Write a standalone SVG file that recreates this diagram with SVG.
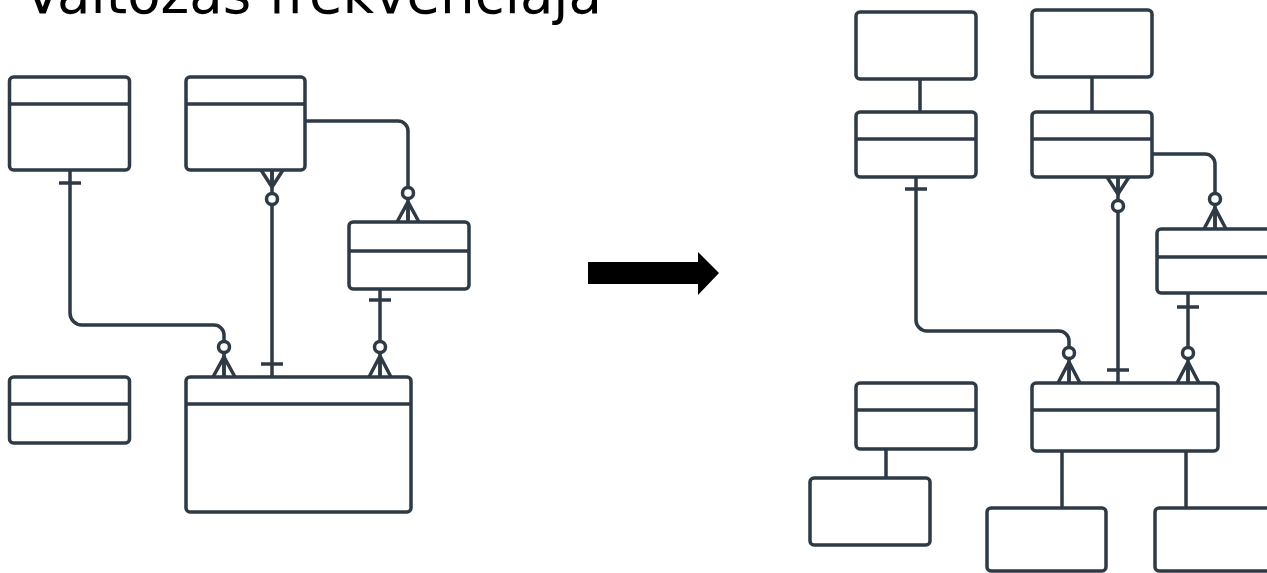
<svg xmlns="http://www.w3.org/2000/svg" width="1267" height="573" viewBox="0 0 1267 573">
<style>
.bx{fill:#fff;stroke:#2e3a46;stroke-width:3.5}
.ln{fill:none;stroke:#2e3a46;stroke-width:3.5}
.ci{fill:#fff;stroke:#2e3a46;stroke-width:3.5}
.t{font-family:"DejaVu Sans",Verdana,sans-serif;font-size:55px;fill:#000}
</style>
<rect width="1267" height="573" fill="#fff"/>
<text class="t" x="24" y="13" textLength="578" lengthAdjust="spacingAndGlyphs">Változás frekvenciája</text>

<g id="connectors">
  <!-- left -->
  <path class="ln" d="M70,170 V313 A12,12 0 0 0 82,325 H214 A10,10 0 0 1 224,335 V377"/>
  <path class="ln" d="M59,183 H81"/>
  <path class="ln" d="M213,377 L224,357 L235,377 M224,357 V377"/>
  <circle class="ci" cx="224" cy="347" r="5.5"/>

  <path class="ln" d="M272,170 V377"/>
  <path class="ln" d="M261,170 L272,187 L283,170 M272,170 V187"/>
  <circle class="ci" cx="272" cy="199" r="5.5"/>
  <path class="ln" d="M261,364 H283"/>

  <path class="ln" d="M305,121 H398 A10,10 0 0 1 408,131 V222"/>
  <circle class="ci" cx="408" cy="193" r="5.5"/>
  <path class="ln" d="M397,222 L408,202 L419,222 M408,202 V222"/>

  <path class="ln" d="M380,289 V377"/>
  <path class="ln" d="M369,300 H391"/>
  <circle class="ci" cx="380" cy="347" r="5.5"/>
  <path class="ln" d="M369,377 L380,356 L391,377 M380,356 V377"/>

  <!-- right -->
  <path class="ln" d="M920,79 V112"/>
  <path class="ln" d="M1092,77 V112"/>
  <path class="ln" d="M886,449 V478"/>
  <path class="ln" d="M1062,451 V508"/>
  <path class="ln" d="M1186,451 V508"/>

  <path class="ln" d="M916,177 V320 A11,11 0 0 0 927,331 H1059 A10,10 0 0 1 1069,341 V383"/>
  <path class="ln" d="M905,189 H927"/>
  <circle class="ci" cx="1069" cy="353" r="5.5"/>
  <path class="ln" d="M1058,383 L1069,362 L1080,383 M1069,362 V383"/>

  <path class="ln" d="M1118,177 V383"/>
  <path class="ln" d="M1107,177 L1118,194 L1129,177 M1118,177 V194"/>
  <circle class="ci" cx="1118" cy="206" r="5.5"/>
  <path class="ln" d="M1107,370 H1129"/>

  <path class="ln" d="M1152,154 H1205 A10,10 0 0 1 1215,164 V229"/>
  <circle class="ci" cx="1215" cy="199" r="5.5"/>
  <path class="ln" d="M1204,229 L1215,208 L1226,229 M1215,208 V229"/>

  <path class="ln" d="M1188,293 V383"/>
  <path class="ln" d="M1177,307 H1199"/>
  <circle class="ci" cx="1188" cy="353" r="5.5"/>
  <path class="ln" d="M1177,383 L1188,362 L1199,383 M1188,362 V383"/>
</g>

<!-- left nodes -->
<g id="L-A"><rect class="bx" x="9.5" y="77" width="120" height="93" rx="4"/><path class="ln" d="M9.5,104 H129.5"/></g>
<g id="L-B"><rect class="bx" x="186" y="77" width="119" height="93" rx="4"/><path class="ln" d="M186,104 H305"/></g>
<g id="L-C"><rect class="bx" x="349" y="222" width="120" height="67" rx="4"/><path class="ln" d="M349,251 H469"/></g>
<g id="L-D"><rect class="bx" x="186" y="377" width="225" height="135" rx="4"/><path class="ln" d="M186,404 H411"/></g>
<g id="L-E"><rect class="bx" x="9.5" y="377" width="120" height="66" rx="4"/><path class="ln" d="M9.5,404 H129.5"/></g>

<g id="arrow"><polygon points="588,262 698,262 698,252 719,273 698,295 698,284 588,284" fill="#000"/></g>

<!-- right nodes -->
<g id="R1"><rect class="bx" x="856" y="12" width="120" height="67" rx="4"/></g>
<g id="R2"><rect class="bx" x="856" y="112" width="120" height="65" rx="4"/><path class="ln" d="M856,139 H976"/></g>
<g id="R3"><rect class="bx" x="1032" y="10" width="120" height="67" rx="4"/></g>
<g id="R4"><rect class="bx" x="1032" y="112" width="120" height="65" rx="4"/><path class="ln" d="M1032,139 H1152"/></g>
<g id="R5"><rect class="bx" x="1157" y="229" width="130" height="64" rx="4"/><path class="ln" d="M1157,257 H1287"/></g>
<g id="R6"><rect class="bx" x="1032" y="383" width="186" height="68" rx="4"/><path class="ln" d="M1032,410 H1218"/></g>
<g id="R7"><rect class="bx" x="856" y="383" width="120" height="66" rx="4"/><path class="ln" d="M856,410 H976"/></g>
<g id="R8"><rect class="bx" x="810" y="478" width="120" height="67" rx="4"/></g>
<g id="R9"><rect class="bx" x="987" y="508" width="119" height="63" rx="4"/></g>
<g id="R10"><rect class="bx" x="1155" y="508" width="130" height="63" rx="4"/></g>
</svg>
